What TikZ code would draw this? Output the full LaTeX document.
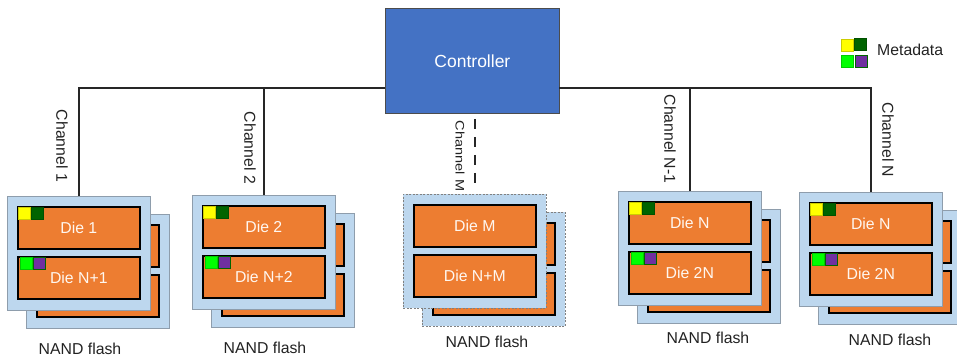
\documentclass[tikz,border=0pt]{standalone}
\usepackage{fontspec}
\setmainfont{Liberation Sans}
\usetikzlibrary{calc}

\definecolor{ctrlblue}{HTML}{4472C4}
\definecolor{modblue}{HTML}{BDD7EE}
\definecolor{modedge}{HTML}{8E9DAC}
\definecolor{dieorange}{HTML}{ED7D31}
\definecolor{tagyellow}{HTML}{FFFF00}
\definecolor{tagdkgreen}{HTML}{006400}
\definecolor{taglime}{HTML}{00FF00}
\definecolor{tagpurple}{HTML}{7030A0}
\definecolor{inktext}{HTML}{222222}

\tikzset{
  module/.style={rectangle, fill=modblue, draw=modedge, line width=0.9pt,
    minimum width=143pt, minimum height=114pt, inner sep=0pt, anchor=north west},
  dashmodule/.style={module, draw=gray, line width=0.7pt, dash pattern=on 2pt off 1.5pt},
  die/.style={rectangle, fill=dieorange, draw=black, line width=1.6pt,
    minimum width=122pt, minimum height=42pt, inner sep=0pt, anchor=north west,
    text=white!94!orange, font=\fontsize{15.8}{19}\selectfont},
  tag/.style={rectangle, minimum size=12pt, inner sep=0pt, anchor=north west, line width=0.6pt},
  lbl/.style={inner sep=0pt, text=inktext, font=\fontsize{15.8}{19}\selectfont},
  ctrlbox/.style={rectangle, fill=ctrlblue, draw=black!70, line width=0.8pt,
    minimum width=174pt, minimum height=105pt, inner sep=0pt, anchor=north west,
    text=white, font=\fontsize{17.5}{21}\selectfont},
  bus/.style={draw=black!85, line width=1.8pt},
  busdash/.style={draw=black!85, line width=2.2pt, dash pattern=on 10pt off 8pt}
}

% One NAND flash package: a back copy and a front copy, each with two dies.
% #1 name, #2 x, #3 y (top-left of front copy), #4 upper die text, #5 lower die text, #6 package style
\newcommand\nandunit[6]{%
  \node[#6] (#1back) at ({#2+19},{#3+18}) {};
  \node[die] (#1backtop) at ($(#1back.north west)+(10,10)$) {};
  \node[die] (#1backbot) at ($(#1back.north west)+(10,60)$) {};
  \node[#6] (#1) at (#2,#3) {};
  \node[die] (#1top) at ($(#1.north west)+(10,10)$) {#4};
  \node[die] (#1bot) at ($(#1.north west)+(10,60)$) {#5};
}
% Metadata tags in the corners of the two front dies of package #1
\newcommand\metatags[1]{%
  \node[tag, fill=tagyellow, draw=tagyellow!80!black] (#1ya) at ($(#1top.north west)+(1,1)$) {};
  \node[tag, fill=tagdkgreen, draw=tagdkgreen!80!black] (#1yb) at (#1ya.north east) {};
  \node[tag, fill=taglime, draw=taglime!80!black] (#1ga) at ($(#1bot.north west)+(3,1)$) {};
  \node[tag, fill=tagpurple, draw=tagdkgreen] (#1gb) at (#1ga.north east) {};
}

\begin{document}
\begin{tikzpicture}[x=1pt, y=-1pt]
  \useasboundingbox (0,0) rectangle (957,357);
  \clip (0,0) rectangle (957,357);

  % controller
  \node[ctrlbox] (ctrl) at (385,8) {Controller};
  \coordinate (busL) at (385,88);
  \coordinate (busR) at (559,88);

  % flash packages
  \nandunit{mA}{7}{196}{Die 1}{Die N+1}{module}
  \nandunit{mB}{192}{195}{Die 2}{Die N+2}{module}
  \nandunit{mM}{403}{194}{Die M}{Die N+M}{dashmodule}
  \nandunit{mP}{618}{191}{Die N}{Die 2N}{module}
  \nandunit{mQ}{799}{192}{Die N}{Die 2N}{module}
  \metatags{mA}
  \metatags{mB}
  \metatags{mP}
  \metatags{mQ}

  % channels
  \draw[bus] (busL) -| (mA.north);
  \draw[bus] (mB.north) -- (mB.north |- busL);
  \draw[bus] (busR) -| (mQ.north);
  \draw[bus] (mP.north) -- (mP.north |- busR);
  \draw[busdash, shorten <=5pt, shorten >=7pt] (mM.north |- ctrl.south) -- (mM.north);

  % channel labels
  \node[lbl, rotate=-90] (chA) at (62,146) {Channel 1};
  \node[lbl, rotate=-90] (chB) at (250,148) {Channel 2};
  \node[lbl, rotate=-90] (chM) at (460,156) {\scalebox{0.92}[0.78]{Channel M}};
  \node[lbl, rotate=-90] (chP) at (670,139) {Channel N-1};
  \node[lbl, rotate=-90] (chQ) at (888,140) {Channel N};

  % package captions
  \node[lbl] (capA) at (80,348.5) {NAND flash};
  \node[lbl] (capB) at (265,347.5) {NAND flash};
  \node[lbl] (capM) at (487,342) {NAND flash};
  \node[lbl] (capP) at (708,338) {NAND flash};
  \node[lbl] (capQ) at (890,340) {NAND flash};

  % legend
  \node[tag, fill=tagyellow, draw=tagyellow!80!black] (lgya) at (841,39) {};
  \node[tag, fill=tagdkgreen, draw=tagdkgreen!80!black] (lgyb) at (854,38) {};
  \node[tag, fill=taglime, draw=taglime!80!black] (lgga) at (841,55) {};
  \node[tag, fill=tagpurple, draw=tagdkgreen] (lggb) at (855,55) {};
  \node[lbl, anchor=west] (lgtxt) at (877,50) {Metadata};
\end{tikzpicture}
\end{document}
